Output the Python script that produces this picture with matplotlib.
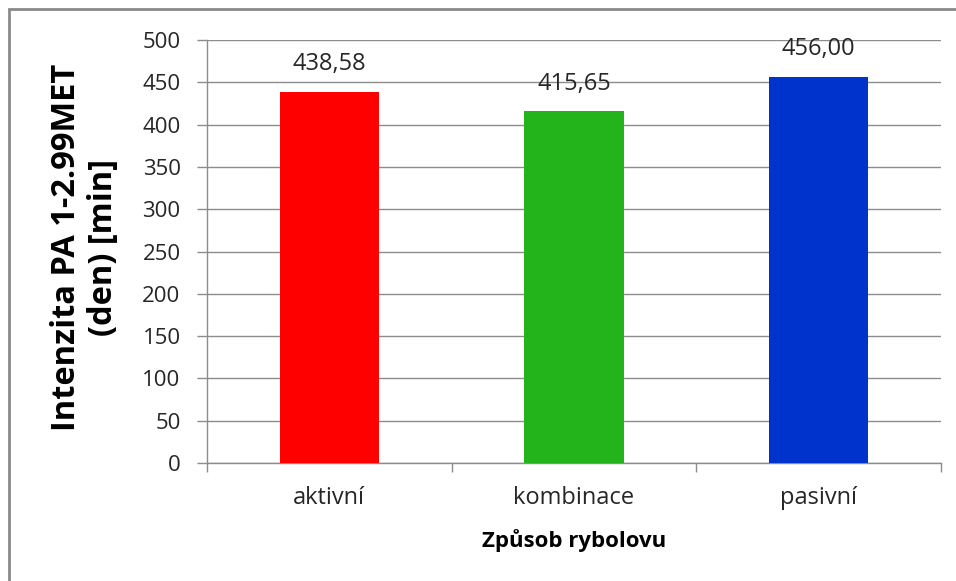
import matplotlib
matplotlib.use("Agg")
import matplotlib.pyplot as plt
from matplotlib.patches import Rectangle

categories = ["aktivní", "kombinace", "pasivní"]
values = [438.58, 415.65, 456.00]
labels = ["438,58", "415,65", "456,00"]
colors = ["#ff0000", "#22b41a", "#0033cc"]
yticks = [0, 50, 100, 150, 200, 250, 300, 350, 400, 450, 500]

plt.rcParams['font.family'] = ['Open Sans', 'DejaVu Sans']

W, H = 956, 581
fig = plt.figure(figsize=(W/100, H/100), dpi=100)
ax = fig.add_axes([207/W, 1-463/H, (941-207)/W, (463-40)/H])

x = list(range(len(categories)))
ax.bar(x, values, width=0.405, color=colors, zorder=3)
for xi, v, lab in zip(x, values, labels):
    ax.annotate(lab, (xi, v), xytext=(0, 20), textcoords='offset points',
                ha='center', va='center', fontsize=17, color='#262626')

ax.set_xlim(-0.5, 2.5)
ax.set_ylim(0, 500)
ax.set_yticks(yticks)
ax.yaxis.grid(True, color='#8c8c8c', linewidth=1, zorder=0)
ax.set_xticks(x)
ax.set_xticklabels(categories, fontsize=17, color='#262626')
ax.set_xticks([-0.5, 0.5, 1.5, 2.5], minor=True)
ax.tick_params(axis='x', which='major', length=0, pad=16.5)
ax.tick_params(axis='x', which='minor', length=6.5, color='#8c8c8c', width=1, direction='out')
ax.tick_params(axis='y', length=7, color='#8c8c8c', width=1, labelsize=16, labelcolor='#262626', pad=12)
for s in ['top', 'right']:
    ax.spines[s].set_visible(False)
for s in ['left', 'bottom']:
    ax.spines[s].set_color('#8c8c8c')
    ax.spines[s].set_linewidth(1)

fig.text(85/W, 1-247/H, "Intenzita PA 1-2.99MET\n(den) [min]", fontsize=23.5, fontweight='bold',
         linespacing=1.12, rotation=90, ha='center', va='center', multialignment='center')
fig.text(574/W, 1-541/H, "Způsob rybolovu", fontsize=16, fontweight='bold',
         ha='center', va='center')

fig.patches.append(Rectangle((8.5/W, -0.1), 1.2, 1.1-9.5/H, transform=fig.transFigure,
                             fill=False, edgecolor='#8a8a8a', linewidth=2))

fig.savefig("out.png", dpi=100)
